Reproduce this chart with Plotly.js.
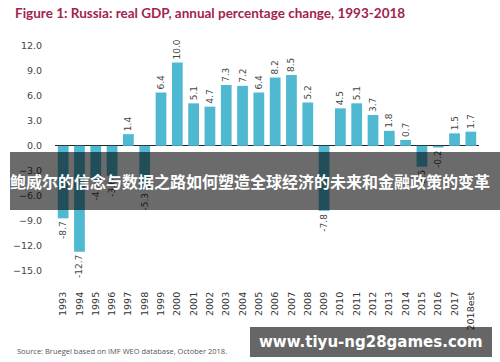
<!DOCTYPE html>
<html><head><meta charset="utf-8">
<script src="https://cdn.plot.ly/plotly-3.0.1.min.js"></script>
<style>html,body{margin:0;padding:0;background:#fff}#chart{width:500px;height:362px}</style>
</head><body><div id="chart"></div>
<script>
const years = ['1993','1994','1995','1996','1997','1998','1999','2000','2001','2002','2003','2004','2005','2006','2007','2008','2009','2010','2011','2012','2013','2014','2015','2016','2017','2018est'];
const gdpGrowth = [-8.7,-12.7,-4.1,-3.6,1.4,-5.3,6.4,10.0,5.1,4.7,7.3,7.2,6.4,8.2,8.5,5.2,-7.8,4.5,5.1,3.7,1.8,0.7,-2.5,-0.2,1.5,1.7];
const yTicks = [12,9,6,3,0,-3,-6,-9,-12,-15];

const W = 500, H = 362, M = {l:55, r:21, t:35, b:82};
const PW = W - M.l - M.r, PH = H - M.t - M.b;
const px = x => (x - M.l) / PW;
const py = y => (H - M.b - y) / PH;

const trace = {
  type: 'bar', x: years, y: gdpGrowth,
  marker: {color: '#4fb9d1'},
  texttemplate: '%{y:.1f}', textposition: 'outside', textangle: -90,
  constraintext: 'none',
  textfont: {family: 'DejaVu Sans', size: 9, color: '#444'},
  cliponaxis: false, hoverinfo: 'none'
};

const layout = {
  width: W, height: H, margin: M,
  paper_bgcolor: '#fff', plot_bgcolor: '#fff',
  showlegend: false, bargap: 0.34,
  title: {text: 'Figure 1: Russia: real GDP, annual percentage change, 1993-2018',
    x: 15/W, xanchor: 'left', y: 1 - 13/H, yanchor: 'middle',
    font: {family: 'Lato', size: 13.5, color: '#a3224e', weight: 'bold'}},
  xaxis: {type: 'category', range: [-0.5, 25.5], tickangle: -90, showgrid: false, zeroline: false,
    showline: false, ticks: 'outside', ticklen: 7, tickcolor: 'rgba(0,0,0,0)',
    tickfont: {family: 'DejaVu Sans', size: 9.5, color: '#333'}},
  yaxis: {range: [-16.1, 13.3], tickvals: yTicks, tickformat: '.1f', showgrid: false,
    zeroline: true, zerolinecolor: '#222', zerolinewidth: 1, showline: false,
    ticks: 'outside', ticklen: 10, tickcolor: 'rgba(0,0,0,0)',
    tickfont: {family: 'DejaVu Sans', size: 9.5, color: '#444'}},
  shapes: [
    {type: 'rect', xref: 'paper', yref: 'paper', x0: px(10), x1: px(500), y0: py(210), y1: py(152),
      fillcolor: 'rgba(0,0,0,0.58)', line: {width: 0}, layer: 'above'},
    {type: 'rect', xref: 'paper', yref: 'paper', x0: px(250), x1: px(492), y0: py(357), y1: py(327),
      fillcolor: 'rgba(0,0,0,0.6)', line: {width: 0}, layer: 'above'}
  ],
  annotations: [
    {xref: 'paper', yref: 'paper', x: px(250), y: py(181), xanchor: 'center', yanchor: 'middle', showarrow: false,
      text: '鲍威尔的信念与数据之路如何塑造全球经济的未来和金融政策的变革',
      font: {family: 'Noto Sans CJK SC', size: 16, color: '#fff', weight: 'bold'}},
    {xref: 'paper', yref: 'paper', x: px(371), y: py(342), xanchor: 'center', yanchor: 'middle', showarrow: false,
      text: 'www.tiyu-ng28games.com',
      font: {family: 'DejaVu Sans', size: 15, color: '#fff', weight: 'bold'}},
    {xref: 'paper', yref: 'paper', x: px(15), y: py(351), xanchor: 'left', yanchor: 'middle', showarrow: false,
      text: 'Source: Bruegel based on IMF WEO database, October 2018.',
      font: {family: 'Open Sans', size: 7.5, color: '#555'}}
  ]
};

Plotly.newPlot('chart', [trace], layout, {staticPlot: true, displayModeBar: false});
</script></body></html>
